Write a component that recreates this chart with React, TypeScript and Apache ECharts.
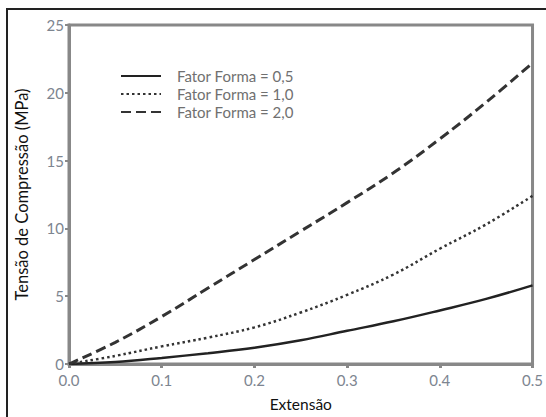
import React, { useEffect, useRef } from "react";
import * as echarts from "echarts";

const extensao = [0, 0.05, 0.1, 0.15, 0.2, 0.25, 0.3, 0.35, 0.4, 0.45, 0.5];
const fator05 = [0, 0.15, 0.45, 0.8, 1.2, 1.75, 2.45, 3.15, 3.95, 4.8, 5.8];
const fator10 = [0, 0.6, 1.3, 1.95, 2.7, 3.8, 5.1, 6.6, 8.5, 10.3, 12.4];
const fator20 = [0, 1.6, 3.5, 5.6, 7.7, 9.8, 11.9, 14.1, 16.6, 19.3, 22.2];
const seriesNames = ["Fator Forma = 0,5", "Fator Forma = 1,0", "Fator Forma = 2,0"];

const FONT = "Lato, 'Open Sans', sans-serif";

export default function App() {
  const ref = useRef<HTMLDivElement>(null);
  useEffect(() => {
    if (!ref.current) return;
    const chart = echarts.init(ref.current, undefined, { renderer: "svg" });
    const pair = (ys: number[]) => extensao.map((x, i) => [x, ys[i]]);
    chart.setOption({
      animation: false,
      backgroundColor: "#ffffff",
      textStyle: { fontFamily: FONT },
      graphic: [
        {
          type: "rect",
          shape: { x: 7, y: 9, width: 600, height: 450 },
          style: { fill: "none", stroke: "#222", lineWidth: 2 },
          silent: true,
        },
      ],
      grid: {
        left: 69,
        top: 25,
        right: 8,
        bottom: 50,
        show: true,
        borderColor: "#888888",
        borderWidth: 3,
      },
      legend: {
        left: 120,
        top: 68,
        orient: "vertical",
        itemWidth: 40,
        itemHeight: 14,
        itemGap: 2,
        padding: 0,
        itemStyle: { color: "transparent", borderColor: "transparent", borderWidth: 0 },
        textStyle: {
          fontFamily: FONT,
          fontSize: 15,
          lineHeight: 16,
          color: "#707070",
          padding: [0, 0, 0, 11],
        },
        data: seriesNames,
      },
      xAxis: {
        type: "value",
        min: 0,
        max: 0.5,
        interval: 0.1,
        name: "Extensão",
        nameLocation: "middle",
        nameGap: 32,
        nameTextStyle: { color: "#111", fontSize: 15.5, fontFamily: FONT },
        axisLine: { show: true, lineStyle: { color: "#888888", width: 3 } },
        axisTick: { show: true, inside: false, length: 4, lineStyle: { color: "#888888", width: 3 } },
        axisLabel: {
          color: "#7d8590",
          fontSize: 15,
          margin: 8,
          fontFamily: FONT,
          formatter: (v: number) => v.toFixed(1),
        },
        splitLine: { show: false },
      },
      yAxis: {
        type: "value",
        min: 0,
        max: 25,
        interval: 5,
        name: "Tensão de Compressão (MPa)",
        nameLocation: "middle",
        nameGap: 39,
        nameTextStyle: { color: "#111", fontSize: 16.5, fontFamily: FONT },
        axisLine: { show: true, lineStyle: { color: "#888888", width: 3 } },
        axisTick: { show: true, inside: false, length: 4, lineStyle: { color: "#888888", width: 2 } },
        axisLabel: { color: "#7d8590", fontSize: 15, margin: 5, fontFamily: FONT },
        splitLine: { show: false },
      },
      series: [
        {
          name: seriesNames[0],
          type: "line",
          smooth: 0.4,
          showSymbol: false,
          symbol: "none",
          data: pair(fator05),
          lineStyle: { color: "#222222", width: 2.5, type: "solid" },
          itemStyle: { color: "#222222" },
        },
        {
          name: seriesNames[1],
          type: "line",
          smooth: 0.4,
          showSymbol: false,
          symbol: "none",
          data: pair(fator10),
          lineStyle: { color: "#333333", width: 2.5, type: [2.5, 3] },
          itemStyle: { color: "#333333" },
        },
        {
          name: seriesNames[2],
          type: "line",
          smooth: 0.4,
          showSymbol: false,
          symbol: "none",
          data: pair(fator20),
          lineStyle: { color: "#333333", width: 3, type: [10, 5] },
          itemStyle: { color: "#333333" },
        },
      ],
    });
    return () => chart.dispose();
  }, []);
  return (
    <div
      ref={ref}
      style={{ position: "fixed", left: 0, top: 0, width: 546, height: 417 }}
    />
  );
}
